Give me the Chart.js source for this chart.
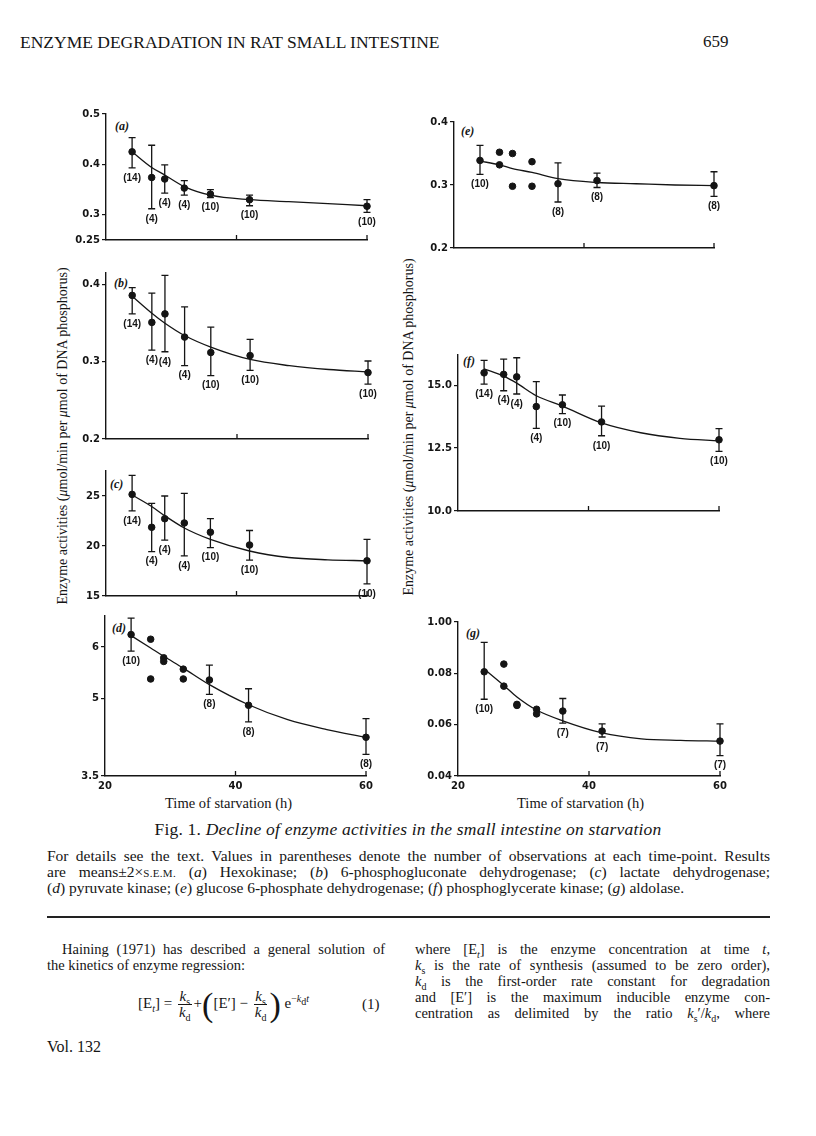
<!DOCTYPE html>
<html>
<head>
<meta charset="utf-8">
<script src="https://cdn.jsdelivr.net/npm/chart.js@4.4.0/dist/chart.umd.min.js"></script>
<style>
  body { margin: 0; width: 816px; height: 1136px; position: relative; overflow: hidden; background: #fff; color: #151515; font-family: "Liberation Serif", "DejaVu Serif", serif; }
  .t { position: absolute; white-space: nowrap; font-size: 14.5px; line-height: 16px; }
  .j { position: absolute; font-size: 14.5px; line-height: 16px; text-align: justify; text-align-last: justify; white-space: nowrap; }
  .tag { position: absolute; font-style: italic; font-weight: bold; font-size: 12px; }
  .ytitle { position: absolute; width: 380px; height: 16px; text-align: center; font-size: 14px; line-height: 16px; transform: rotate(-90deg); white-space: nowrap; }
  canvas { position: absolute; }
  .sc { font-size: 11px; letter-spacing: 0.3px; }
  .frac { display: inline-block; vertical-align: middle; text-align: center; margin: 0 2px; }
  .frac span { display: block; line-height: 15px; padding: 0 1px; }
  .frac span.num { border-bottom: 1px solid #151515; }
  sub, sup { font-size: 10px; line-height: 0; }
  .big { font-size: 34px; vertical-align: middle; font-weight: 100; }
  .legend { font-size: 15.5px; }
</style>
</head>
<body>

<div class="t" style="left:20px; top:34px; font-size:17.5px;">ENZYME DEGRADATION IN RAT SMALL INTESTINE</div>
<div class="t" style="left:703px; top:34px; font-size:17px;">659</div>

<div class="tag" style="left:115px; top:119px;">(a)</div>
<div class="tag" style="left:114px; top:276px;">(b)</div>
<div class="tag" style="left:110px; top:477px;">(c)</div>
<div class="tag" style="left:112px; top:621px;">(d)</div>
<div class="tag" style="left:461px; top:124px;">(e)</div>
<div class="tag" style="left:463px; top:354px;">(f)</div>
<div class="tag" style="left:466px; top:626px;">(g)</div>

<div class="ytitle" style="left:-127px; top:428px;">Enzyme activities (<i>μ</i>mol/min per <i>μ</i>mol of DNA phosphorus)</div>
<div class="ytitle" style="left:219px; top:419px;">Enzyme activities (<i>μ</i>mol/min per <i>μ</i>mol of DNA phosphorus)</div>

<div class="t" style="left:165px; top:795px; font-size:14.5px;">Time of starvation (h)</div>
<div class="t" style="left:517px; top:795px; font-size:14.5px;">Time of starvation (h)</div>

<div class="t" style="left:0; width:816px; text-align:center; top:820px; font-size:17.5px; line-height:18px; letter-spacing:0.2px;">Fig. 1. <i>Decline of enzyme activities in the small intestine on starvation</i></div>

<div class="j legend" style="left:47px; width:723px; top:848px;">For details see the text. Values in parentheses denote the number of observations at each time-point. Results</div>
<div class="j legend" style="left:47px; width:723px; top:864px;">are means±2×<span class="sc">S.E.M.</span> (<i>a</i>) Hexokinase; (<i>b</i>) 6-phosphogluconate dehydrogenase; (<i>c</i>) lactate dehydrogenase;</div>
<div class="t legend" style="left:47px; top:880px;">(<i>d</i>) pyruvate kinase; (<i>e</i>) glucose 6-phosphate dehydrogenase; (<i>f</i>) phosphoglycerate kinase; (<i>g</i>) aldolase.</div>

<div style="position:absolute; left:47px; top:916px; width:723px; height:1.5px; background:#222;"></div>

<div class="j" style="left:62px; width:323px; top:941px;">Haining (1971) has described a general solution of</div>
<div class="t" style="left:47px; top:957px;">the kinetics of enzyme regression:</div>
<div class="t" style="left:138px; top:985px; line-height:36px; font-size:15px;">[E<sub><i>t</i></sub>] = <span class="frac"><span class="num"><i>k</i><sub>s</sub></span><span><i>k</i><sub>d</sub></span></span>+<span class="big">(</span>[E′] − <span class="frac"><span class="num"><i>k</i><sub>s</sub></span><span><i>k</i><sub>d</sub></span></span><span class="big">)</span> e<sup>−<i>k</i><sub>d</sub><i>t</i></sup></div>
<div class="t" style="left:362px; top:996px; font-size:15px;">(1)</div>
<div class="t" style="left:47px; top:1039px; font-size:16px;">Vol. 132</div>

<div class="j" style="left:415px; width:355px; top:941px;">where [E<sub><i>t</i></sub>] is the enzyme concentration at time <i>t</i>,</div>
<div class="j" style="left:415px; width:355px; top:957px;"><i>k</i><sub>s</sub> is the rate of synthesis (assumed to be zero order),</div>
<div class="j" style="left:415px; width:355px; top:973px;"><i>k</i><sub>d</sub> is the first-order rate constant for degradation</div>
<div class="j" style="left:415px; width:355px; top:989px;">and [E′] is the maximum inducible enzyme con-</div>
<div class="j" style="left:415px; width:355px; top:1005px;">centration as delimited by the ratio <i>k</i><sub>s</sub>′/<i>k</i><sub>d</sub>, where</div>

<script>
// time points (h)
const hours = [24, 27, 29, 32, 36, 42, 60];
const sparseHours = [24, 36, 42, 60];
const dotHours = [27, 27, 29, 29, 32, 32];
const fitHours = [24, 27, 29, 32, 36, 42, 48, 54, 60];
const xTicks = [20, 40, 60];
const xTickLabels = ["20", "40", "60"];
const xMarks = [40, 60];

// (a) hexokinase
const aMean = [0.425, 0.374, 0.371, 0.353, 0.341, 0.330, 0.317];
const aLow = [0.393, 0.312, 0.343, 0.339, 0.334, 0.318, 0.305];
const aHigh = [0.453, 0.438, 0.399, 0.368, 0.350, 0.339, 0.330];
const aN = [14, 4, 4, 4, 10, 10, 10];
const aFit = [0.425, 0.394, 0.379, 0.356, 0.339, 0.330, 0.326, 0.322, 0.318];
const aTicks = [0.5, 0.4, 0.3, 0.25];
const aTickLabels = ["0.5", "0.4", "0.3", "0.25"];

// (b) 6-phosphogluconate dehydrogenase
const bMean = [0.386, 0.351, 0.362, 0.332, 0.312, 0.308, 0.286];
const bLow = [0.362, 0.315, 0.313, 0.295, 0.282, 0.289, 0.271];
const bHigh = [0.396, 0.389, 0.412, 0.371, 0.345, 0.329, 0.301];
const bN = [14, 4, 4, 4, 10, 10, 10];
const bFit = [0.385, 0.363, 0.350, 0.334, 0.319, 0.303, 0.295, 0.290, 0.287];
const bTicks = [0.4, 0.3, 0.2];
const bTickLabels = ["0.4", "0.3", "0.2"];

// (c) lactate dehydrogenase
const cMean = [25.16, 21.87, 22.73, 22.3, 21.38, 20.1, 18.52];
const cLow = [23.52, 19.43, 20.59, 19.01, 19.83, 18.59, 16.22];
const cHigh = [27.07, 24.27, 25.0, 25.26, 22.73, 21.55, 20.66];
const cN = [14, 4, 4, 4, 10, 10, 10];
const cFit = [25.1, 23.95, 23.03, 21.8, 20.66, 19.5, 18.85, 18.62, 18.52];
const cTicks = [25, 20, 15];
const cTickLabels = ["25", "20", "15"];

// (d) pyruvate kinase
const dMean = [6.24, 5.36, 4.87, 4.25];
const dLow = [5.92, 5.08, 4.55, 3.92];
const dHigh = [6.56, 5.65, 5.19, 4.61];
const dN = [10, 8, 8, 8];
const dDots = [6.15, 5.38, 5.79, 5.72, 5.57, 5.38];
const dFit = [6.22, 5.98, 5.82, 5.59, 5.27, 4.88, 4.59, 4.40, 4.25];
const dTicks = [6, 5, 3.5];
const dTickLabels = ["6", "5", "3.5"];

// (e) glucose 6-phosphate dehydrogenase
const eMean = [0.339, 0.302, 0.307, 0.299];
const eLow = [0.317, 0.273, 0.296, 0.282];
const eHigh = [0.363, 0.335, 0.319, 0.321];
const eN = [10, 8, 8, 8];
const eDots = [0.352, 0.332, 0.350, 0.298, 0.337, 0.298];
const eFit = [0.338, 0.332, 0.326, 0.320, 0.310, 0.304, 0.302, 0.300, 0.299];
const eTicks = [0.4, 0.3, 0.2];
const eTickLabels = ["0.4", "0.3", "0.2"];

// (f) phosphoglycerate kinase
const fMean = [15.49, 15.43, 15.33, 14.15, 14.22, 13.54, 12.83];
const fLow = [15.04, 14.78, 14.65, 13.28, 13.87, 12.99, 12.37];
const fHigh = [15.99, 16.04, 16.09, 15.14, 14.61, 14.17, 13.27];
const fN = [14, 4, 4, 4, 10, 10, 10];
const fFit = [15.65, 15.36, 15.08, 14.58, 14.17, 13.50, 13.11, 12.89, 12.79];
const fTicks = [15, 12.5, 10];
const fTickLabels = ["15.0", "12.5", "10.0"];

// (g) aldolase
const gMean = [0.0806, 0.0653, 0.0575, 0.0536];
const gLow = [0.0699, 0.0606, 0.0552, 0.0479];
const gHigh = [0.0921, 0.0702, 0.0603, 0.0603];
const gN = [10, 7, 7, 7];
const gDots = [0.0836, 0.0750, 0.0679, 0.0675, 0.0660, 0.0642];
const gFit = [0.0817, 0.0753, 0.0708, 0.0657, 0.0615, 0.0568, 0.0545, 0.0539, 0.0536];
const gTicks = [0.10, 0.08, 0.06, 0.04];
const gTickLabels = ["1.00", "0.08", "0.06", "0.04"];

function pts(xs, ys) {
  return xs.map((x, i) => ({ x: x, y: ys[i] }));
}

// plot areas on the page: [left, top, right, bottom]
const panels = [
  { area: [106, 114, 367, 242], y: [0.25, 0.5], ticks: aTicks, labels: aTickLabels, x: hours, mean: aMean, low: aLow, high: aHigh, n: aN, fit: aFit, dots: [] },
  { area: [106, 273, 368, 441.5], y: [0.2, 0.415], ticks: bTicks, labels: bTickLabels, x: hours, mean: bMean, low: bLow, high: bHigh, n: bN, fit: bFit, dots: [] },
  { area: [106, 470.5, 367, 598.3], y: [15, 27.5], ticks: cTicks, labels: cTickLabels, x: hours, mean: cMean, low: cLow, high: cHigh, n: cN, fit: cFit, dots: [] },
  { area: [105, 616, 366, 776], y: [3.5, 6.6], ticks: dTicks, labels: dTickLabels, x: sparseHours, mean: dMean, low: dLow, high: dHigh, n: dN, fit: dFit, dots: dDots, bottom: true },
  { area: [454, 121.7, 714, 250], y: [0.2, 0.4], ticks: eTicks, labels: eTickLabels, x: sparseHours, mean: eMean, low: eLow, high: eHigh, n: eN, fit: eFit, dots: eDots },
  { area: [458, 355, 719, 513.7], y: [10, 16.2], ticks: fTicks, labels: fTickLabels, x: hours, mean: fMean, low: fLow, high: fHigh, n: fN, fit: fFit, dots: [] },
  { area: [458, 621.7, 720, 775.7], y: [0.04, 0.10], ticks: gTicks, labels: gTickLabels, x: sparseHours, mean: gMean, low: gLow, high: gHigh, n: gN, fit: gFit, dots: gDots, bottom: true }
];

const ink = "#151515";

// error bars, counts and the inward x ticks
const errorBars = {
  id: "errorBars",
  afterDatasetsDraw(chart) {
    const ctx = chart.ctx;
    const xs = chart.scales.x, ys = chart.scales.y;
    ctx.save();
    ctx.strokeStyle = ink;
    ctx.fillStyle = ink;
    ctx.lineWidth = 1.3;
    ctx.font = "bold 10px 'Liberation Sans'";
    ctx.textAlign = "center";
    ctx.textBaseline = "middle";
    chart.data.datasets.forEach(ds => {
      if (!ds.low) return;
      ds.data.forEach((p, i) => {
        const px = xs.getPixelForValue(p.x);
        const lo = ys.getPixelForValue(ds.low[i]);
        const hi = ys.getPixelForValue(ds.high[i]);
        ctx.beginPath();
        ctx.moveTo(px, lo); ctx.lineTo(px, hi);
        ctx.moveTo(px - 3.5, lo); ctx.lineTo(px + 3.5, lo);
        ctx.moveTo(px - 3.5, hi); ctx.lineTo(px + 3.5, hi);
        ctx.stroke();
        ctx.fillText("(" + ds.counts[i] + ")", px, lo + 10);
      });
    });
    const yb = chart.chartArea.bottom;
    xMarks.forEach(v => {
      const px = xs.getPixelForValue(v);
      ctx.beginPath();
      ctx.moveTo(px, yb);
      ctx.lineTo(px, yb - 5);
      ctx.stroke();
    });
    ctx.restore();
  }
};

panels.forEach(p => {
  const [l, t, r, b] = p.area;
  const YW = 44, PT = 10, PR = 16;
  const XH = p.bottom ? 24 : 6;
  const canvas = document.createElement("canvas");
  canvas.width = r - l + YW + PR;
  canvas.height = b - t + PT + XH;
  canvas.style.left = (l - YW) + "px";
  canvas.style.top = (t - PT) + "px";
  document.body.appendChild(canvas);

  new Chart(canvas, {
    type: "scatter",
    data: {
      datasets: [
        {
          data: pts(fitHours, p.fit),
          showLine: true,
          borderColor: ink,
          borderWidth: 1.3,
          pointRadius: 0,
          cubicInterpolationMode: "monotone",
          clip: false
        },
        {
          data: pts(p.x, p.mean),
          low: p.low,
          high: p.high,
          counts: p.n,
          backgroundColor: ink,
          borderColor: ink,
          pointRadius: 3.3,
          clip: false
        },
        {
          data: pts(dotHours.slice(0, p.dots.length), p.dots),
          backgroundColor: ink,
          borderColor: ink,
          pointRadius: 3.3,
          clip: false
        }
      ]
    },
    options: {
      responsive: false,
      animation: false,
      events: [],
      layout: { padding: { top: PT, right: PR, left: 0, bottom: 0 } },
      plugins: { legend: { display: false }, tooltip: { enabled: false } },
      scales: {
        x: {
          type: "linear",
          min: 20,
          max: 60,
          afterBuildTicks: s => { s.ticks = xTicks.map(v => ({ value: v })); },
          afterFit: s => { s.height = XH; },
          grid: { display: false, drawTicks: false },
          border: { display: true, color: ink, width: 1.4 },
          ticks: {
            display: !!p.bottom,
            padding: 4,
            autoSkip: false,
            maxRotation: 0,
            color: ink,
            font: { family: "DejaVu Sans", size: 10, weight: "bold" },
            callback: (v, i) => xTickLabels[i]
          }
        },
        y: {
          type: "linear",
          min: p.y[0],
          max: p.y[1],
          afterBuildTicks: s => { s.ticks = p.ticks.map(v => ({ value: v })); },
          afterFit: s => { s.width = YW; },
          grid: { display: true, drawOnChartArea: false, drawTicks: true, tickLength: 4, color: ink, lineWidth: 1.2 },
          border: { display: true, color: ink, width: 1.4 },
          ticks: {
            padding: 2,
            autoSkip: false,
            color: ink,
            font: { family: "DejaVu Sans", size: 10, weight: "bold" },
            callback: (v, i) => p.labels[i]
          }
        }
      }
    },
    plugins: [errorBars]
  });
});
</script>
</body>
</html>
